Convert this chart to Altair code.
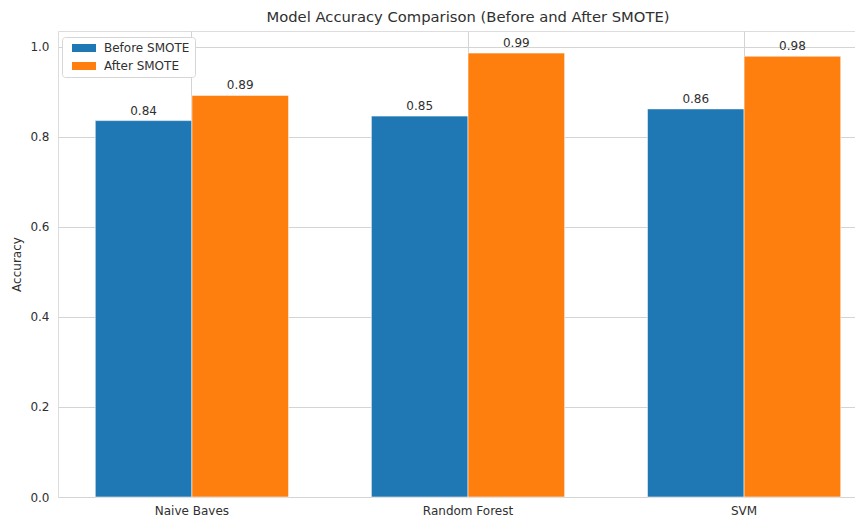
import altair as alt
import pandas as pd

models = ["Naive Bayes", "Random Forest", "SVM"]
series = ["Before SMOTE", "After SMOTE"]
before_acc = [0.836, 0.846, 0.862]
after_acc = [0.892, 0.986, 0.979]
colors = ["#1f77b4", "#ff7f0e"]
y_ticks = [0.0, 0.2, 0.4, 0.6, 0.8, 1.0]

rows = []
for m, b, a in zip(models, before_acc, after_acc):
    rows.append({"model": m, "series": series[0], "acc": b})
    rows.append({"model": m, "series": series[1], "acc": a})
df = pd.DataFrame(rows)

FONT = "DejaVu Sans"
TXT = "#303030"
GRID = "#d4d4d4"

x_enc = alt.X(
    "model:N",
    sort=models,
    title=None,
    scale=alt.Scale(paddingInner=0.3, paddingOuter=0.135),
    axis=alt.Axis(
        labelAngle=0, grid=True, bandPosition=0.5, ticks=False, tickSize=0,
        domain=False, labelPadding=8, labelFontSize=12, labelColor=TXT,
        labelFont=FONT, gridColor=GRID, gridWidth=1,
    ),
)
y_enc = alt.Y(
    "acc:Q",
    title="Accuracy",
    scale=alt.Scale(domain=[0, 1.035], nice=False, zero=True),
    axis=alt.Axis(
        values=y_ticks, format=".1f", grid=True, ticks=False, tickSize=0,
        domain=False, labelPadding=9, labelFontSize=12, labelColor=TXT,
        labelFont=FONT, gridColor=GRID, gridWidth=1, titleFontSize=12,
        titleFont=FONT, titleColor=TXT, titleFontWeight="normal",
        titlePadding=6,
    ),
)
off_enc = alt.XOffset("series:N", sort=series, scale=alt.Scale(paddingInner=0, paddingOuter=0))

bars = alt.Chart(df).mark_bar(stroke="white", strokeWidth=0.8, strokeOpacity=0.7).encode(
    x=x_enc,
    xOffset=off_enc,
    y=y_enc,
    color=alt.Color(
        "series:N",
        sort=series,
        scale=alt.Scale(domain=series, range=colors),
        legend=alt.Legend(
            title=None,
            orient="none",
            legendX=4,
            legendY=6,
            symbolType="M-3,-1L3,-1L3,1L-3,1Z",
            symbolSize=64,
            symbolStrokeWidth=0,
            symbolOffset=11,
            labelOffset=14,
            labelFontSize=12,
            labelFont=FONT,
            labelColor=TXT,
            rowPadding=6,
            padding=5,
            fillColor="white",
            strokeColor="#d6d6d6",
            cornerRadius=3,
        ),
    ),
)

labels = alt.Chart(df).mark_text(
    baseline="alphabetic", dy=-6, fontSize=12, font=FONT, color=TXT
).encode(
    x=alt.X("model:N", sort=models),
    xOffset=alt.XOffset("series:N", sort=series),
    y="acc:Q",
    text=alt.Text("acc:Q", format=".2f"),
)

chart = (
    alt.layer(bars, labels)
    .properties(
        width=820,
        height=466,
        autosize=alt.AutoSizeParams(type="none"),
        padding={"left": 50, "top": 23, "right": -23, "bottom": 18},
        title=alt.Title(
            "Model Accuracy Comparison (Before and After SMOTE)",
            fontSize=14.75,
            font=FONT,
            fontWeight="normal",
            color=TXT,
            anchor="middle",
            baseline="alphabetic",
            offset=7,
            dy=13,
        ),
    )
    .configure_view(stroke="#cccccc", strokeWidth=1)
    .configure(background="white")
)

chart.save("out.html", embed_options={"renderer": "svg", "actions": False})
